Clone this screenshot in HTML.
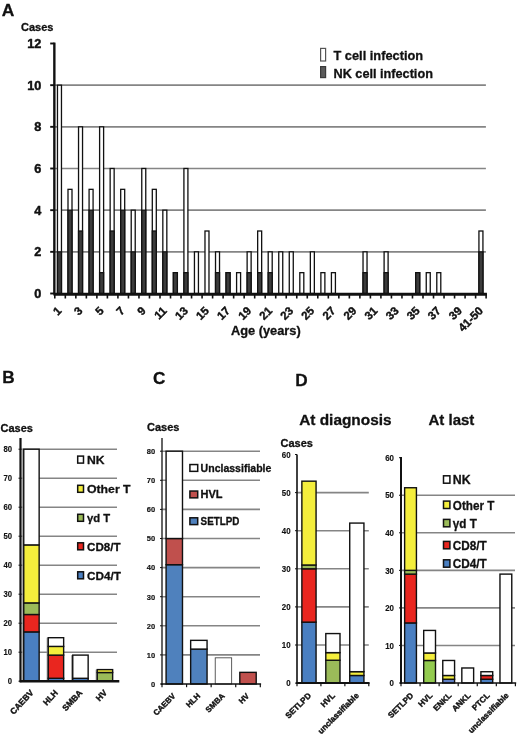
<!DOCTYPE html>
<html><head><meta charset="utf-8"><title>Figure</title>
<style>
html,body{margin:0;padding:0;background:#fff;}
body{width:520px;height:737px;overflow:hidden;font-family:"Liberation Sans",sans-serif;}
svg{display:block;will-change:transform;}
text{stroke:#111;stroke-width:0.3px;stroke-linejoin:round;}
text.rl{stroke-width:0.4px;}
text.tk{stroke-width:0.15px;}
text.yl{stroke-width:0.45px;}
</style></head><body>
<svg width="520" height="737" viewBox="0 0 520 737" font-family="'Liberation Sans', sans-serif" font-weight="bold" fill="#111">
<rect x="0" y="0" width="520" height="737" fill="#fff"/>
<g id="panelA">
<text x="1.8" y="15.6" font-size="17.4">A</text>
<text x="21" y="30.5" font-size="11">Cases</text>
<line x1="54.5" y1="251.83" x2="485.9" y2="251.83" stroke="#858585" stroke-width="1.7"/>
<line x1="54.5" y1="210.17" x2="485.9" y2="210.17" stroke="#858585" stroke-width="1.7"/>
<line x1="54.5" y1="168.5" x2="485.9" y2="168.5" stroke="#858585" stroke-width="1.7"/>
<line x1="54.5" y1="126.83" x2="485.9" y2="126.83" stroke="#858585" stroke-width="1.7"/>
<line x1="54.5" y1="85.17" x2="485.9" y2="85.17" stroke="#858585" stroke-width="1.7"/>
<text class="yl" x="41.3" y="298.1" font-size="12.7" text-anchor="end">0</text>
<line x1="50.2" y1="293.5" x2="54.5" y2="293.5" stroke="#111" stroke-width="1.9"/>
<text class="yl" x="41.3" y="256.43" font-size="12.7" text-anchor="end">2</text>
<line x1="50.2" y1="251.83" x2="54.5" y2="251.83" stroke="#111" stroke-width="1.9"/>
<text class="yl" x="41.3" y="214.77" font-size="12.7" text-anchor="end">4</text>
<line x1="50.2" y1="210.17" x2="54.5" y2="210.17" stroke="#111" stroke-width="1.9"/>
<text class="yl" x="41.3" y="173.1" font-size="12.7" text-anchor="end">6</text>
<line x1="50.2" y1="168.5" x2="54.5" y2="168.5" stroke="#111" stroke-width="1.9"/>
<text class="yl" x="41.3" y="131.43" font-size="12.7" text-anchor="end">8</text>
<line x1="50.2" y1="126.83" x2="54.5" y2="126.83" stroke="#111" stroke-width="1.9"/>
<text class="yl" x="41.3" y="89.77" font-size="12.7" text-anchor="end">10</text>
<line x1="50.2" y1="85.17" x2="54.5" y2="85.17" stroke="#111" stroke-width="1.9"/>
<text class="yl" x="41.3" y="48.1" font-size="12.7" text-anchor="end">12</text>
<line x1="50.2" y1="43.5" x2="54.5" y2="43.5" stroke="#111" stroke-width="1.9"/>
<rect x="57.47" y="85.17" width="4" height="208.33" fill="#fff" stroke="#111" stroke-width="1.3"/>
<rect x="57.47" y="251.83" width="4" height="41.67" fill="#3c3c3c" stroke="#111" stroke-width="1.3"/>
<rect x="68" y="189.33" width="4" height="104.17" fill="#fff" stroke="#111" stroke-width="1.3"/>
<rect x="68" y="210.17" width="4" height="83.33" fill="#3c3c3c" stroke="#111" stroke-width="1.3"/>
<rect x="78.54" y="126.83" width="4" height="166.67" fill="#fff" stroke="#111" stroke-width="1.3"/>
<rect x="78.54" y="231" width="4" height="62.5" fill="#3c3c3c" stroke="#111" stroke-width="1.3"/>
<rect x="89.08" y="189.33" width="4" height="104.17" fill="#fff" stroke="#111" stroke-width="1.3"/>
<rect x="89.08" y="210.17" width="4" height="83.33" fill="#3c3c3c" stroke="#111" stroke-width="1.3"/>
<rect x="99.61" y="126.83" width="4" height="166.67" fill="#fff" stroke="#111" stroke-width="1.3"/>
<rect x="99.61" y="272.67" width="4" height="20.83" fill="#3c3c3c" stroke="#111" stroke-width="1.3"/>
<rect x="110.15" y="168.5" width="4" height="125" fill="#fff" stroke="#111" stroke-width="1.3"/>
<rect x="110.15" y="231" width="4" height="62.5" fill="#3c3c3c" stroke="#111" stroke-width="1.3"/>
<rect x="120.69" y="189.33" width="4" height="104.17" fill="#fff" stroke="#111" stroke-width="1.3"/>
<rect x="120.69" y="210.17" width="4" height="83.33" fill="#3c3c3c" stroke="#111" stroke-width="1.3"/>
<rect x="131.22" y="210.17" width="4" height="83.33" fill="#fff" stroke="#111" stroke-width="1.3"/>
<rect x="131.22" y="251.83" width="4" height="41.67" fill="#3c3c3c" stroke="#111" stroke-width="1.3"/>
<rect x="141.76" y="168.5" width="4" height="125" fill="#fff" stroke="#111" stroke-width="1.3"/>
<rect x="141.76" y="210.17" width="4" height="83.33" fill="#3c3c3c" stroke="#111" stroke-width="1.3"/>
<rect x="152.3" y="189.33" width="4" height="104.17" fill="#fff" stroke="#111" stroke-width="1.3"/>
<rect x="152.3" y="231" width="4" height="62.5" fill="#3c3c3c" stroke="#111" stroke-width="1.3"/>
<rect x="162.83" y="210.17" width="4" height="83.33" fill="#fff" stroke="#111" stroke-width="1.3"/>
<rect x="162.83" y="251.83" width="4" height="41.67" fill="#3c3c3c" stroke="#111" stroke-width="1.3"/>
<rect x="173.37" y="272.67" width="4" height="20.83" fill="#fff" stroke="#111" stroke-width="1.3"/>
<rect x="173.37" y="272.67" width="4" height="20.83" fill="#3c3c3c" stroke="#111" stroke-width="1.3"/>
<rect x="183.91" y="168.5" width="4" height="125" fill="#fff" stroke="#111" stroke-width="1.3"/>
<rect x="183.91" y="272.67" width="4" height="20.83" fill="#3c3c3c" stroke="#111" stroke-width="1.3"/>
<rect x="194.44" y="251.83" width="4" height="41.67" fill="#fff" stroke="#111" stroke-width="1.3"/>
<rect x="204.98" y="231" width="4" height="62.5" fill="#fff" stroke="#111" stroke-width="1.3"/>
<rect x="215.52" y="251.83" width="4" height="41.67" fill="#fff" stroke="#111" stroke-width="1.3"/>
<rect x="215.52" y="272.67" width="4" height="20.83" fill="#3c3c3c" stroke="#111" stroke-width="1.3"/>
<rect x="226.05" y="272.67" width="4" height="20.83" fill="#fff" stroke="#111" stroke-width="1.3"/>
<rect x="226.05" y="272.67" width="4" height="20.83" fill="#3c3c3c" stroke="#111" stroke-width="1.3"/>
<rect x="236.59" y="272.67" width="4" height="20.83" fill="#fff" stroke="#111" stroke-width="1.3"/>
<rect x="247.13" y="251.83" width="4" height="41.67" fill="#fff" stroke="#111" stroke-width="1.3"/>
<rect x="247.13" y="272.67" width="4" height="20.83" fill="#3c3c3c" stroke="#111" stroke-width="1.3"/>
<rect x="257.66" y="231" width="4" height="62.5" fill="#fff" stroke="#111" stroke-width="1.3"/>
<rect x="257.66" y="272.67" width="4" height="20.83" fill="#3c3c3c" stroke="#111" stroke-width="1.3"/>
<rect x="268.2" y="251.83" width="4" height="41.67" fill="#fff" stroke="#111" stroke-width="1.3"/>
<rect x="268.2" y="272.67" width="4" height="20.83" fill="#3c3c3c" stroke="#111" stroke-width="1.3"/>
<rect x="278.74" y="251.83" width="4" height="41.67" fill="#fff" stroke="#111" stroke-width="1.3"/>
<rect x="289.27" y="251.83" width="4" height="41.67" fill="#fff" stroke="#111" stroke-width="1.3"/>
<rect x="299.81" y="272.67" width="4" height="20.83" fill="#fff" stroke="#111" stroke-width="1.3"/>
<rect x="310.35" y="251.83" width="4" height="41.67" fill="#fff" stroke="#111" stroke-width="1.3"/>
<rect x="320.88" y="272.67" width="4" height="20.83" fill="#fff" stroke="#111" stroke-width="1.3"/>
<rect x="331.42" y="272.67" width="4" height="20.83" fill="#fff" stroke="#111" stroke-width="1.3"/>
<rect x="363.03" y="251.83" width="4" height="41.67" fill="#fff" stroke="#111" stroke-width="1.3"/>
<rect x="363.03" y="272.67" width="4" height="20.83" fill="#3c3c3c" stroke="#111" stroke-width="1.3"/>
<rect x="384.1" y="251.83" width="4" height="41.67" fill="#fff" stroke="#111" stroke-width="1.3"/>
<rect x="384.1" y="272.67" width="4" height="20.83" fill="#3c3c3c" stroke="#111" stroke-width="1.3"/>
<rect x="415.71" y="272.67" width="4" height="20.83" fill="#fff" stroke="#111" stroke-width="1.3"/>
<rect x="415.71" y="272.67" width="4" height="20.83" fill="#3c3c3c" stroke="#111" stroke-width="1.3"/>
<rect x="426.25" y="272.67" width="4" height="20.83" fill="#fff" stroke="#111" stroke-width="1.3"/>
<rect x="436.79" y="272.67" width="4" height="20.83" fill="#fff" stroke="#111" stroke-width="1.3"/>
<rect x="478.93" y="231" width="4" height="62.5" fill="#fff" stroke="#111" stroke-width="1.3"/>
<rect x="478.93" y="251.83" width="4" height="41.67" fill="#3c3c3c" stroke="#111" stroke-width="1.3"/>
<line x1="54.35" y1="42.6" x2="54.35" y2="294.5" stroke="#111" stroke-width="2.4"/>
<line x1="53.5" y1="294.2" x2="486.9" y2="294.2" stroke="#111" stroke-width="3"/>
<line x1="54.8" y1="293.5" x2="54.8" y2="298.5" stroke="#111" stroke-width="1.6"/>
<line x1="65.32" y1="293.5" x2="65.32" y2="298.5" stroke="#111" stroke-width="1.6"/>
<line x1="75.84" y1="293.5" x2="75.84" y2="298.5" stroke="#111" stroke-width="1.6"/>
<line x1="86.36" y1="293.5" x2="86.36" y2="298.5" stroke="#111" stroke-width="1.6"/>
<line x1="96.88" y1="293.5" x2="96.88" y2="298.5" stroke="#111" stroke-width="1.6"/>
<line x1="107.4" y1="293.5" x2="107.4" y2="298.5" stroke="#111" stroke-width="1.6"/>
<line x1="117.92" y1="293.5" x2="117.92" y2="298.5" stroke="#111" stroke-width="1.6"/>
<line x1="128.44" y1="293.5" x2="128.44" y2="298.5" stroke="#111" stroke-width="1.6"/>
<line x1="138.96" y1="293.5" x2="138.96" y2="298.5" stroke="#111" stroke-width="1.6"/>
<line x1="149.48" y1="293.5" x2="149.48" y2="298.5" stroke="#111" stroke-width="1.6"/>
<line x1="160" y1="293.5" x2="160" y2="298.5" stroke="#111" stroke-width="1.6"/>
<line x1="170.52" y1="293.5" x2="170.52" y2="298.5" stroke="#111" stroke-width="1.6"/>
<line x1="181.04" y1="293.5" x2="181.04" y2="298.5" stroke="#111" stroke-width="1.6"/>
<line x1="191.56" y1="293.5" x2="191.56" y2="298.5" stroke="#111" stroke-width="1.6"/>
<line x1="202.08" y1="293.5" x2="202.08" y2="298.5" stroke="#111" stroke-width="1.6"/>
<line x1="212.6" y1="293.5" x2="212.6" y2="298.5" stroke="#111" stroke-width="1.6"/>
<line x1="223.12" y1="293.5" x2="223.12" y2="298.5" stroke="#111" stroke-width="1.6"/>
<line x1="233.64" y1="293.5" x2="233.64" y2="298.5" stroke="#111" stroke-width="1.6"/>
<line x1="244.16" y1="293.5" x2="244.16" y2="298.5" stroke="#111" stroke-width="1.6"/>
<line x1="254.68" y1="293.5" x2="254.68" y2="298.5" stroke="#111" stroke-width="1.6"/>
<line x1="265.2" y1="293.5" x2="265.2" y2="298.5" stroke="#111" stroke-width="1.6"/>
<line x1="275.72" y1="293.5" x2="275.72" y2="298.5" stroke="#111" stroke-width="1.6"/>
<line x1="286.24" y1="293.5" x2="286.24" y2="298.5" stroke="#111" stroke-width="1.6"/>
<line x1="296.76" y1="293.5" x2="296.76" y2="298.5" stroke="#111" stroke-width="1.6"/>
<line x1="307.28" y1="293.5" x2="307.28" y2="298.5" stroke="#111" stroke-width="1.6"/>
<line x1="317.8" y1="293.5" x2="317.8" y2="298.5" stroke="#111" stroke-width="1.6"/>
<line x1="328.32" y1="293.5" x2="328.32" y2="298.5" stroke="#111" stroke-width="1.6"/>
<line x1="338.84" y1="293.5" x2="338.84" y2="298.5" stroke="#111" stroke-width="1.6"/>
<line x1="349.36" y1="293.5" x2="349.36" y2="298.5" stroke="#111" stroke-width="1.6"/>
<line x1="359.88" y1="293.5" x2="359.88" y2="298.5" stroke="#111" stroke-width="1.6"/>
<line x1="370.4" y1="293.5" x2="370.4" y2="298.5" stroke="#111" stroke-width="1.6"/>
<line x1="380.92" y1="293.5" x2="380.92" y2="298.5" stroke="#111" stroke-width="1.6"/>
<line x1="391.44" y1="293.5" x2="391.44" y2="298.5" stroke="#111" stroke-width="1.6"/>
<line x1="401.96" y1="293.5" x2="401.96" y2="298.5" stroke="#111" stroke-width="1.6"/>
<line x1="412.48" y1="293.5" x2="412.48" y2="298.5" stroke="#111" stroke-width="1.6"/>
<line x1="423" y1="293.5" x2="423" y2="298.5" stroke="#111" stroke-width="1.6"/>
<line x1="433.52" y1="293.5" x2="433.52" y2="298.5" stroke="#111" stroke-width="1.6"/>
<line x1="444.04" y1="293.5" x2="444.04" y2="298.5" stroke="#111" stroke-width="1.6"/>
<line x1="454.56" y1="293.5" x2="454.56" y2="298.5" stroke="#111" stroke-width="1.6"/>
<line x1="465.08" y1="293.5" x2="465.08" y2="298.5" stroke="#111" stroke-width="1.6"/>
<line x1="475.6" y1="293.5" x2="475.6" y2="298.5" stroke="#111" stroke-width="1.6"/>
<line x1="486.12" y1="293.5" x2="486.12" y2="298.5" stroke="#111" stroke-width="1.6"/>
<text class="rl" font-size="11.5" text-anchor="end" transform="translate(62.27 311.5) rotate(-45)">1</text>
<text class="rl" font-size="11.5" text-anchor="end" transform="translate(83.34 311.5) rotate(-45)">3</text>
<text class="rl" font-size="11.5" text-anchor="end" transform="translate(104.41 311.5) rotate(-45)">5</text>
<text class="rl" font-size="11.5" text-anchor="end" transform="translate(125.49 311.5) rotate(-45)">7</text>
<text class="rl" font-size="11.5" text-anchor="end" transform="translate(146.56 311.5) rotate(-45)">9</text>
<text class="rl" font-size="11.5" text-anchor="end" transform="translate(167.63 311.5) rotate(-45)">11</text>
<text class="rl" font-size="11.5" text-anchor="end" transform="translate(188.71 311.5) rotate(-45)">13</text>
<text class="rl" font-size="11.5" text-anchor="end" transform="translate(209.78 311.5) rotate(-45)">15</text>
<text class="rl" font-size="11.5" text-anchor="end" transform="translate(230.85 311.5) rotate(-45)">17</text>
<text class="rl" font-size="11.5" text-anchor="end" transform="translate(251.93 311.5) rotate(-45)">19</text>
<text class="rl" font-size="11.5" text-anchor="end" transform="translate(273 311.5) rotate(-45)">21</text>
<text class="rl" font-size="11.5" text-anchor="end" transform="translate(294.07 311.5) rotate(-45)">23</text>
<text class="rl" font-size="11.5" text-anchor="end" transform="translate(315.15 311.5) rotate(-45)">25</text>
<text class="rl" font-size="11.5" text-anchor="end" transform="translate(336.22 311.5) rotate(-45)">27</text>
<text class="rl" font-size="11.5" text-anchor="end" transform="translate(357.29 311.5) rotate(-45)">29</text>
<text class="rl" font-size="11.5" text-anchor="end" transform="translate(378.37 311.5) rotate(-45)">31</text>
<text class="rl" font-size="11.5" text-anchor="end" transform="translate(399.44 311.5) rotate(-45)">33</text>
<text class="rl" font-size="11.5" text-anchor="end" transform="translate(420.51 311.5) rotate(-45)">35</text>
<text class="rl" font-size="11.5" text-anchor="end" transform="translate(441.59 311.5) rotate(-45)">37</text>
<text class="rl" font-size="11.5" text-anchor="end" transform="translate(462.66 311.5) rotate(-45)">39</text>
<text class="rl" font-size="11.5" text-anchor="end" transform="translate(483.73 311.5) rotate(-45)">41-50</text>
<text x="231" y="334.7" font-size="12.8">Age (years)</text>
<rect x="320.6" y="48.4" width="5" height="12.6" fill="#fff" stroke="#555" stroke-width="1.2"/>
<rect x="320.6" y="66.6" width="5" height="11" fill="#5a5a5a" stroke="#3a3a3a" stroke-width="1.2"/>
<text x="333.5" y="60.4" font-size="12.8">T cell infection</text>
<text x="333.5" y="78.3" font-size="12.7">NK cell infection</text>
</g>
<text x="2.3" y="382.9" font-size="17.2">B</text>
<text x="0.5" y="432" font-size="11">Cases</text>
<g id="panelB">
<line x1="20.5" y1="652.2" x2="117" y2="652.2" stroke="#858585" stroke-width="1.6"/>
<line x1="20.5" y1="623.2" x2="117" y2="623.2" stroke="#858585" stroke-width="1.6"/>
<line x1="20.5" y1="594.2" x2="117" y2="594.2" stroke="#858585" stroke-width="1.6"/>
<line x1="20.5" y1="565.2" x2="117" y2="565.2" stroke="#858585" stroke-width="1.6"/>
<line x1="20.5" y1="536.2" x2="117" y2="536.2" stroke="#858585" stroke-width="1.6"/>
<line x1="20.5" y1="507.2" x2="117" y2="507.2" stroke="#858585" stroke-width="1.6"/>
<line x1="20.5" y1="478.2" x2="117" y2="478.2" stroke="#858585" stroke-width="1.6"/>
<line x1="20.5" y1="449.2" x2="117" y2="449.2" stroke="#858585" stroke-width="1.6"/>
<text class="tk" x="7.8" y="684.3" font-size="8.8" textLength="4.3" lengthAdjust="spacingAndGlyphs">0</text>
<line x1="18.5" y1="681.2" x2="20.5" y2="681.2" stroke="#111" stroke-width="1"/>
<text class="tk" x="3.5" y="655.3" font-size="8.8" textLength="8.6" lengthAdjust="spacingAndGlyphs">10</text>
<line x1="18.5" y1="652.2" x2="20.5" y2="652.2" stroke="#111" stroke-width="1"/>
<text class="tk" x="3.5" y="626.3" font-size="8.8" textLength="8.6" lengthAdjust="spacingAndGlyphs">20</text>
<line x1="18.5" y1="623.2" x2="20.5" y2="623.2" stroke="#111" stroke-width="1"/>
<text class="tk" x="3.5" y="597.3" font-size="8.8" textLength="8.6" lengthAdjust="spacingAndGlyphs">30</text>
<line x1="18.5" y1="594.2" x2="20.5" y2="594.2" stroke="#111" stroke-width="1"/>
<text class="tk" x="3.5" y="568.3" font-size="8.8" textLength="8.6" lengthAdjust="spacingAndGlyphs">40</text>
<line x1="18.5" y1="565.2" x2="20.5" y2="565.2" stroke="#111" stroke-width="1"/>
<text class="tk" x="3.5" y="539.3" font-size="8.8" textLength="8.6" lengthAdjust="spacingAndGlyphs">50</text>
<line x1="18.5" y1="536.2" x2="20.5" y2="536.2" stroke="#111" stroke-width="1"/>
<text class="tk" x="3.5" y="510.3" font-size="8.8" textLength="8.6" lengthAdjust="spacingAndGlyphs">60</text>
<line x1="18.5" y1="507.2" x2="20.5" y2="507.2" stroke="#111" stroke-width="1"/>
<text class="tk" x="3.5" y="481.3" font-size="8.8" textLength="8.6" lengthAdjust="spacingAndGlyphs">70</text>
<line x1="18.5" y1="478.2" x2="20.5" y2="478.2" stroke="#111" stroke-width="1"/>
<text class="tk" x="3.5" y="452.3" font-size="8.8" textLength="8.6" lengthAdjust="spacingAndGlyphs">80</text>
<line x1="18.5" y1="449.2" x2="20.5" y2="449.2" stroke="#111" stroke-width="1"/>
<rect x="22.15" y="449.2" width="2" height="232" fill="#9a9a9a"/>
<rect x="23.75" y="631.9" width="15.4" height="49.3" fill="#4a7fc1" stroke="#111" stroke-width="1.4"/>
<rect x="23.75" y="614.5" width="15.4" height="17.4" fill="#e9261f" stroke="#111" stroke-width="1.4"/>
<rect x="23.75" y="602.9" width="15.4" height="11.6" fill="#9bbb59" stroke="#111" stroke-width="1.4"/>
<rect x="23.75" y="544.9" width="15.4" height="58" fill="#f4ee3c" stroke="#111" stroke-width="1.4"/>
<rect x="23.75" y="449.2" width="15.4" height="95.7" fill="#ffffff" stroke="#111" stroke-width="1.4"/>
<rect x="46.65" y="637.7" width="2" height="43.5" fill="#9a9a9a"/>
<rect x="48.25" y="678.3" width="15.4" height="2.9" fill="#4a7fc1" stroke="#111" stroke-width="1.4"/>
<rect x="48.25" y="655.1" width="15.4" height="23.2" fill="#e9261f" stroke="#111" stroke-width="1.4"/>
<rect x="48.25" y="646.4" width="15.4" height="8.7" fill="#f4ee3c" stroke="#111" stroke-width="1.4"/>
<rect x="48.25" y="637.7" width="15.4" height="8.7" fill="#ffffff" stroke="#111" stroke-width="1.4"/>
<rect x="71.15" y="655.1" width="2" height="26.1" fill="#9a9a9a"/>
<rect x="72.75" y="678.3" width="15.4" height="2.9" fill="#4a7fc1" stroke="#111" stroke-width="1.4"/>
<rect x="72.75" y="655.1" width="15.4" height="23.2" fill="#ffffff" stroke="#111" stroke-width="1.4"/>
<rect x="95.65" y="669.6" width="2" height="11.6" fill="#9a9a9a"/>
<rect x="97.25" y="672.5" width="15.4" height="8.7" fill="#9bbb59" stroke="#111" stroke-width="1.4"/>
<rect x="97.25" y="669.6" width="15.4" height="2.9" fill="#f4ee3c" stroke="#111" stroke-width="1.4"/>
<line x1="20.5" y1="438" x2="20.5" y2="682.2" stroke="#111" stroke-width="2.2"/>
<line x1="19.7" y1="681.2" x2="119.3" y2="681.2" stroke="#111" stroke-width="2.6"/>
<text class="rl" font-size="8.5" text-anchor="end" transform="translate(34.05 693.2) rotate(-47)">CAEBV</text>
<text class="rl" font-size="8.5" text-anchor="end" transform="translate(58.55 693.2) rotate(-47)">HLH</text>
<text class="rl" font-size="8.5" text-anchor="end" transform="translate(83.05 693.2) rotate(-47)">SMBA</text>
<text class="rl" font-size="8.5" text-anchor="end" transform="translate(107.55 693.2) rotate(-47)">HV</text>
</g>
<rect x="77.7" y="456.1" width="5.8" height="7" fill="#ffffff" stroke="#111" stroke-width="1.5"/>
<text x="87" y="464.1" font-size="11.8" textLength="17.6" lengthAdjust="spacingAndGlyphs">NK</text>
<rect x="77.7" y="485.3" width="5.8" height="7" fill="#f4ee3c" stroke="#111" stroke-width="1.5"/>
<text x="87" y="493.3" font-size="11.8" textLength="43.6" lengthAdjust="spacingAndGlyphs">Other T</text>
<rect x="77.7" y="514.3" width="5.8" height="7" fill="#9bbb59" stroke="#111" stroke-width="1.5"/>
<text x="87" y="522.3" font-size="11.8" textLength="23.2" lengthAdjust="spacingAndGlyphs">γd T</text>
<rect x="77.7" y="542.8" width="5.8" height="7" fill="#e9261f" stroke="#111" stroke-width="1.5"/>
<text x="87" y="550.8" font-size="11.8" textLength="33.6" lengthAdjust="spacingAndGlyphs">CD8/T</text>
<rect x="77.7" y="571.8" width="5.8" height="7" fill="#4a7fc1" stroke="#111" stroke-width="1.5"/>
<text x="87" y="579.8" font-size="11.8" textLength="34" lengthAdjust="spacingAndGlyphs">CD4/T</text>
<text x="153" y="384" font-size="17.2">C</text>
<text x="147" y="431.3" font-size="11">Cases</text>
<g id="panelC">
<line x1="162" y1="654.9" x2="260" y2="654.9" stroke="#858585" stroke-width="1.6"/>
<line x1="162" y1="625.8" x2="260" y2="625.8" stroke="#858585" stroke-width="1.6"/>
<line x1="162" y1="596.7" x2="260" y2="596.7" stroke="#858585" stroke-width="1.6"/>
<line x1="162" y1="567.6" x2="260" y2="567.6" stroke="#858585" stroke-width="1.6"/>
<line x1="162" y1="538.5" x2="260" y2="538.5" stroke="#858585" stroke-width="1.6"/>
<line x1="162" y1="509.4" x2="260" y2="509.4" stroke="#858585" stroke-width="1.6"/>
<line x1="162" y1="480.3" x2="260" y2="480.3" stroke="#858585" stroke-width="1.6"/>
<line x1="162" y1="451.2" x2="260" y2="451.2" stroke="#858585" stroke-width="1.6"/>
<text class="tk" x="155.2" y="686.8" font-size="7.5" text-anchor="end">0</text>
<line x1="160" y1="684" x2="162" y2="684" stroke="#111" stroke-width="1"/>
<text class="tk" x="155.2" y="657.7" font-size="7.5" text-anchor="end">10</text>
<line x1="160" y1="654.9" x2="162" y2="654.9" stroke="#111" stroke-width="1"/>
<text class="tk" x="155.2" y="628.6" font-size="7.5" text-anchor="end">20</text>
<line x1="160" y1="625.8" x2="162" y2="625.8" stroke="#111" stroke-width="1"/>
<text class="tk" x="155.2" y="599.5" font-size="7.5" text-anchor="end">30</text>
<line x1="160" y1="596.7" x2="162" y2="596.7" stroke="#111" stroke-width="1"/>
<text class="tk" x="155.2" y="570.4" font-size="7.5" text-anchor="end">40</text>
<line x1="160" y1="567.6" x2="162" y2="567.6" stroke="#111" stroke-width="1"/>
<text class="tk" x="155.2" y="541.3" font-size="7.5" text-anchor="end">50</text>
<line x1="160" y1="538.5" x2="162" y2="538.5" stroke="#111" stroke-width="1"/>
<text class="tk" x="155.2" y="512.2" font-size="7.5" text-anchor="end">60</text>
<line x1="160" y1="509.4" x2="162" y2="509.4" stroke="#111" stroke-width="1"/>
<text class="tk" x="155.2" y="483.1" font-size="7.5" text-anchor="end">70</text>
<line x1="160" y1="480.3" x2="162" y2="480.3" stroke="#111" stroke-width="1"/>
<text class="tk" x="155.2" y="454" font-size="7.5" text-anchor="end">80</text>
<line x1="160" y1="451.2" x2="162" y2="451.2" stroke="#111" stroke-width="1"/>
<rect x="166.09" y="564.69" width="16.4" height="119.31" fill="#4f81bd" stroke="#111" stroke-width="1.4"/>
<rect x="166.09" y="538.5" width="16.4" height="26.19" fill="#c0504d" stroke="#111" stroke-width="1.4"/>
<rect x="166.09" y="451.2" width="16.4" height="87.3" fill="#ffffff" stroke="#111" stroke-width="1.4"/>
<rect x="190.66" y="649.08" width="16.4" height="34.92" fill="#4f81bd" stroke="#111" stroke-width="1.4"/>
<rect x="190.66" y="640.35" width="16.4" height="8.73" fill="#ffffff" stroke="#111" stroke-width="1.4"/>
<rect x="215.24" y="657.81" width="16.4" height="26.19" fill="#ffffff" stroke="#4a4a4a" stroke-width="0.9"/>
<rect x="239.81" y="672.36" width="16.4" height="11.64" fill="#c0504d" stroke="#111" stroke-width="1.4"/>
<line x1="162" y1="438" x2="162" y2="685" stroke="#111" stroke-width="1.3"/>
<line x1="161.2" y1="684" x2="261.1" y2="684" stroke="#111" stroke-width="1.4"/>
<line x1="162" y1="684" x2="162" y2="687.2" stroke="#111" stroke-width="1.2"/>
<line x1="186.57" y1="684" x2="186.57" y2="687.2" stroke="#111" stroke-width="1.2"/>
<line x1="211.15" y1="684" x2="211.15" y2="687.2" stroke="#111" stroke-width="1.2"/>
<line x1="235.73" y1="684" x2="235.73" y2="687.2" stroke="#111" stroke-width="1.2"/>
<line x1="260.3" y1="684" x2="260.3" y2="687.2" stroke="#111" stroke-width="1.2"/>
<text class="rl" font-size="7.9" text-anchor="end" transform="translate(176.09 696.5) rotate(-45)">CAEBV</text>
<text class="rl" font-size="7.9" text-anchor="end" transform="translate(200.66 696.5) rotate(-45)">HLH</text>
<text class="rl" font-size="7.9" text-anchor="end" transform="translate(225.24 696.5) rotate(-45)">SMBA</text>
<text class="rl" font-size="7.9" text-anchor="end" transform="translate(249.81 696.5) rotate(-45)">HV</text>
</g>
<rect x="189.9" y="464.55" width="7.8" height="6.8" fill="#ffffff" stroke="#111" stroke-width="1.5"/>
<text x="200.6" y="471.75" font-size="10.5" textLength="70.8" lengthAdjust="spacingAndGlyphs">Unclassifiable</text>
<rect x="189.9" y="491.05" width="7.8" height="6.8" fill="#c0504d" stroke="#111" stroke-width="1.5"/>
<text x="200.6" y="498.25" font-size="10.5" textLength="22" lengthAdjust="spacingAndGlyphs">HVL</text>
<rect x="189.9" y="517.8" width="7.8" height="6.8" fill="#4f81bd" stroke="#111" stroke-width="1.5"/>
<text x="200.6" y="525" font-size="10.5" textLength="38.8" lengthAdjust="spacingAndGlyphs">SETLPD</text>
<text x="295.2" y="385.5" font-size="17.2">D</text>
<text x="299.2" y="424.5" font-size="15.4">At diagnosis</text>
<text x="428.5" y="425" font-size="15">At last</text>
<text x="280.5" y="447" font-size="11">Cases</text>
<g id="panelD1">
<line x1="297" y1="645" x2="368.8" y2="645" stroke="#858585" stroke-width="1.6"/>
<line x1="297" y1="606.9" x2="368.8" y2="606.9" stroke="#858585" stroke-width="1.6"/>
<line x1="297" y1="568.8" x2="368.8" y2="568.8" stroke="#858585" stroke-width="1.6"/>
<line x1="297" y1="530.7" x2="368.8" y2="530.7" stroke="#858585" stroke-width="1.6"/>
<line x1="297" y1="492.6" x2="368.8" y2="492.6" stroke="#858585" stroke-width="1.6"/>
<text class="tk" x="286.2" y="686.3" font-size="9" textLength="4.4" lengthAdjust="spacingAndGlyphs">0</text>
<line x1="295" y1="683.1" x2="297" y2="683.1" stroke="#111" stroke-width="1"/>
<text class="tk" x="281.8" y="648.2" font-size="9" textLength="8.8" lengthAdjust="spacingAndGlyphs">10</text>
<line x1="295" y1="645" x2="297" y2="645" stroke="#111" stroke-width="1"/>
<text class="tk" x="281.8" y="610.1" font-size="9" textLength="8.8" lengthAdjust="spacingAndGlyphs">20</text>
<line x1="295" y1="606.9" x2="297" y2="606.9" stroke="#111" stroke-width="1"/>
<text class="tk" x="281.8" y="572" font-size="9" textLength="8.8" lengthAdjust="spacingAndGlyphs">30</text>
<line x1="295" y1="568.8" x2="297" y2="568.8" stroke="#111" stroke-width="1"/>
<text class="tk" x="281.8" y="533.9" font-size="9" textLength="8.8" lengthAdjust="spacingAndGlyphs">40</text>
<line x1="295" y1="530.7" x2="297" y2="530.7" stroke="#111" stroke-width="1"/>
<text class="tk" x="281.8" y="495.8" font-size="9" textLength="8.8" lengthAdjust="spacingAndGlyphs">50</text>
<line x1="295" y1="492.6" x2="297" y2="492.6" stroke="#111" stroke-width="1"/>
<text class="tk" x="281.8" y="457.7" font-size="9" textLength="8.8" lengthAdjust="spacingAndGlyphs">60</text>
<line x1="295" y1="454.5" x2="297" y2="454.5" stroke="#111" stroke-width="1"/>
<rect x="301.87" y="622.14" width="14.2" height="60.96" fill="#4a7fc1" stroke="#111" stroke-width="1.4"/>
<rect x="301.87" y="568.8" width="14.2" height="53.34" fill="#e9261f" stroke="#111" stroke-width="1.4"/>
<rect x="301.87" y="564.99" width="14.2" height="3.81" fill="#9bbb59" stroke="#111" stroke-width="1.4"/>
<rect x="301.87" y="481.17" width="14.2" height="83.82" fill="#f4ee3c" stroke="#111" stroke-width="1.4"/>
<rect x="325.8" y="660.24" width="14.2" height="22.86" fill="#9bbb59" stroke="#111" stroke-width="1.4"/>
<rect x="325.8" y="652.62" width="14.2" height="7.62" fill="#f4ee3c" stroke="#111" stroke-width="1.4"/>
<rect x="325.8" y="633.57" width="14.2" height="19.05" fill="#ffffff" stroke="#111" stroke-width="1.4"/>
<rect x="349.73" y="675.48" width="14.2" height="7.62" fill="#4a7fc1" stroke="#111" stroke-width="1.4"/>
<rect x="349.73" y="671.67" width="14.2" height="3.81" fill="#f4ee3c" stroke="#111" stroke-width="1.4"/>
<rect x="349.73" y="523.08" width="14.2" height="148.59" fill="#ffffff" stroke="#111" stroke-width="1.4"/>
<line x1="297" y1="454.5" x2="297" y2="684.1" stroke="#111" stroke-width="1.6"/>
<line x1="296.2" y1="683.1" x2="369.6" y2="683.1" stroke="#111" stroke-width="2"/>
<line x1="297" y1="683.1" x2="297" y2="686.3" stroke="#111" stroke-width="1.2"/>
<line x1="320.93" y1="683.1" x2="320.93" y2="686.3" stroke="#111" stroke-width="1.2"/>
<line x1="344.87" y1="683.1" x2="344.87" y2="686.3" stroke="#111" stroke-width="1.2"/>
<line x1="368.8" y1="683.1" x2="368.8" y2="686.3" stroke="#111" stroke-width="1.2"/>
<text class="rl" font-size="8.2" text-anchor="end" transform="translate(311.57 696.1) rotate(-45)">SETLPD</text>
<text class="rl" font-size="8.2" text-anchor="end" transform="translate(335.5 696.1) rotate(-45)">HVL</text>
<text class="rl" font-size="8.2" text-anchor="end" transform="translate(359.43 696.1) rotate(-45)">unclassifiable</text>
</g>
<g id="panelD2">
<line x1="401" y1="645.45" x2="515" y2="645.45" stroke="#858585" stroke-width="1.6"/>
<line x1="401" y1="607.9" x2="515" y2="607.9" stroke="#858585" stroke-width="1.6"/>
<line x1="401" y1="570.35" x2="515" y2="570.35" stroke="#858585" stroke-width="1.6"/>
<line x1="401" y1="532.8" x2="515" y2="532.8" stroke="#858585" stroke-width="1.6"/>
<line x1="401" y1="495.25" x2="515" y2="495.25" stroke="#858585" stroke-width="1.6"/>
<text class="tk" x="389.6" y="686.2" font-size="9" textLength="4.4" lengthAdjust="spacingAndGlyphs">0</text>
<line x1="399" y1="683" x2="401" y2="683" stroke="#111" stroke-width="1"/>
<text class="tk" x="385.2" y="648.65" font-size="9" textLength="8.8" lengthAdjust="spacingAndGlyphs">10</text>
<line x1="399" y1="645.45" x2="401" y2="645.45" stroke="#111" stroke-width="1"/>
<text class="tk" x="385.2" y="611.1" font-size="9" textLength="8.8" lengthAdjust="spacingAndGlyphs">20</text>
<line x1="399" y1="607.9" x2="401" y2="607.9" stroke="#111" stroke-width="1"/>
<text class="tk" x="385.2" y="573.55" font-size="9" textLength="8.8" lengthAdjust="spacingAndGlyphs">30</text>
<line x1="399" y1="570.35" x2="401" y2="570.35" stroke="#111" stroke-width="1"/>
<text class="tk" x="385.2" y="536" font-size="9" textLength="8.8" lengthAdjust="spacingAndGlyphs">40</text>
<line x1="399" y1="532.8" x2="401" y2="532.8" stroke="#111" stroke-width="1"/>
<text class="tk" x="385.2" y="498.45" font-size="9" textLength="8.8" lengthAdjust="spacingAndGlyphs">50</text>
<line x1="399" y1="495.25" x2="401" y2="495.25" stroke="#111" stroke-width="1"/>
<text class="tk" x="385.2" y="460.9" font-size="9" textLength="8.8" lengthAdjust="spacingAndGlyphs">60</text>
<line x1="399" y1="457.7" x2="401" y2="457.7" stroke="#111" stroke-width="1"/>
<rect x="404.63" y="622.92" width="11.8" height="60.08" fill="#4a7fc1" stroke="#111" stroke-width="1.4"/>
<rect x="404.63" y="574.11" width="11.8" height="48.81" fill="#e9261f" stroke="#111" stroke-width="1.4"/>
<rect x="404.63" y="570.35" width="11.8" height="3.75" fill="#9bbb59" stroke="#111" stroke-width="1.4"/>
<rect x="404.63" y="487.74" width="11.8" height="82.61" fill="#f4ee3c" stroke="#111" stroke-width="1.4"/>
<rect x="423.7" y="660.47" width="11.8" height="22.53" fill="#93cb4f" stroke="#111" stroke-width="1.4"/>
<rect x="423.7" y="652.96" width="11.8" height="7.51" fill="#f4ee3c" stroke="#111" stroke-width="1.4"/>
<rect x="423.7" y="630.43" width="11.8" height="22.53" fill="#ffffff" stroke="#111" stroke-width="1.4"/>
<rect x="442.77" y="679.25" width="11.8" height="3.75" fill="#5f7fc4" stroke="#111" stroke-width="1.4"/>
<rect x="442.77" y="675.49" width="11.8" height="3.75" fill="#f4ee3c" stroke="#111" stroke-width="1.4"/>
<rect x="442.77" y="660.47" width="11.8" height="15.02" fill="#ffffff" stroke="#111" stroke-width="1.4"/>
<rect x="461.83" y="667.98" width="11.8" height="15.02" fill="#ffffff" stroke="#111" stroke-width="1.4"/>
<rect x="480.9" y="679.25" width="11.8" height="3.75" fill="#4a7fc1" stroke="#111" stroke-width="1.4"/>
<rect x="480.9" y="675.49" width="11.8" height="3.75" fill="#e9261f" stroke="#111" stroke-width="1.4"/>
<rect x="480.9" y="671.74" width="11.8" height="3.75" fill="#ffffff" stroke="#111" stroke-width="1.4"/>
<rect x="499.97" y="574.11" width="11.8" height="108.89" fill="#ffffff" stroke="#111" stroke-width="1.4"/>
<line x1="401" y1="457" x2="401" y2="684" stroke="#111" stroke-width="2"/>
<line x1="400.2" y1="683" x2="516.2" y2="683" stroke="#111" stroke-width="1.7"/>
<line x1="401" y1="683" x2="401" y2="686.2" stroke="#111" stroke-width="1.2"/>
<line x1="420.07" y1="683" x2="420.07" y2="686.2" stroke="#111" stroke-width="1.2"/>
<line x1="439.13" y1="683" x2="439.13" y2="686.2" stroke="#111" stroke-width="1.2"/>
<line x1="458.2" y1="683" x2="458.2" y2="686.2" stroke="#111" stroke-width="1.2"/>
<line x1="477.27" y1="683" x2="477.27" y2="686.2" stroke="#111" stroke-width="1.2"/>
<line x1="496.33" y1="683" x2="496.33" y2="686.2" stroke="#111" stroke-width="1.2"/>
<line x1="515.4" y1="683" x2="515.4" y2="686.2" stroke="#111" stroke-width="1.2"/>
<text class="rl" font-size="8.1" text-anchor="end" transform="translate(413.93 696) rotate(-45)">SETLPD</text>
<text class="rl" font-size="8.1" text-anchor="end" transform="translate(433 696) rotate(-45)">HVL</text>
<text class="rl" font-size="8.1" text-anchor="end" transform="translate(452.07 696) rotate(-45)">ENKL</text>
<text class="rl" font-size="8.1" text-anchor="end" transform="translate(471.13 696) rotate(-45)">ANKL</text>
<text class="rl" font-size="8.1" text-anchor="end" transform="translate(490.2 696) rotate(-45)">PTCL</text>
<text class="rl" font-size="8.1" text-anchor="end" transform="translate(509.27 696) rotate(-45)">unclassifiable</text>
</g>
<rect x="443.5" y="475.8" width="6.4" height="7.4" fill="#ffffff" stroke="#111" stroke-width="1.5"/>
<text x="452.8" y="484.3" font-size="12.6" textLength="17.8" lengthAdjust="spacingAndGlyphs">NK</text>
<rect x="443.5" y="501.1" width="6.4" height="7.4" fill="#f4ee3c" stroke="#111" stroke-width="1.5"/>
<text x="452.8" y="509.6" font-size="12.6" textLength="41.6" lengthAdjust="spacingAndGlyphs">Other T</text>
<rect x="443.5" y="519.4" width="6.4" height="7.4" fill="#9bbb59" stroke="#111" stroke-width="1.5"/>
<text x="452.8" y="527.9" font-size="12.6" textLength="24" lengthAdjust="spacingAndGlyphs">γd T</text>
<rect x="443.5" y="541.4" width="6.4" height="7.4" fill="#e9261f" stroke="#111" stroke-width="1.5"/>
<text x="452.8" y="549.9" font-size="12.6" textLength="34" lengthAdjust="spacingAndGlyphs">CD8/T</text>
<rect x="443.5" y="559.8" width="6.4" height="7.4" fill="#4a7fc1" stroke="#111" stroke-width="1.5"/>
<text x="452.8" y="568.3" font-size="12.6" textLength="34" lengthAdjust="spacingAndGlyphs">CD4/T</text>
</svg>
</body></html>
